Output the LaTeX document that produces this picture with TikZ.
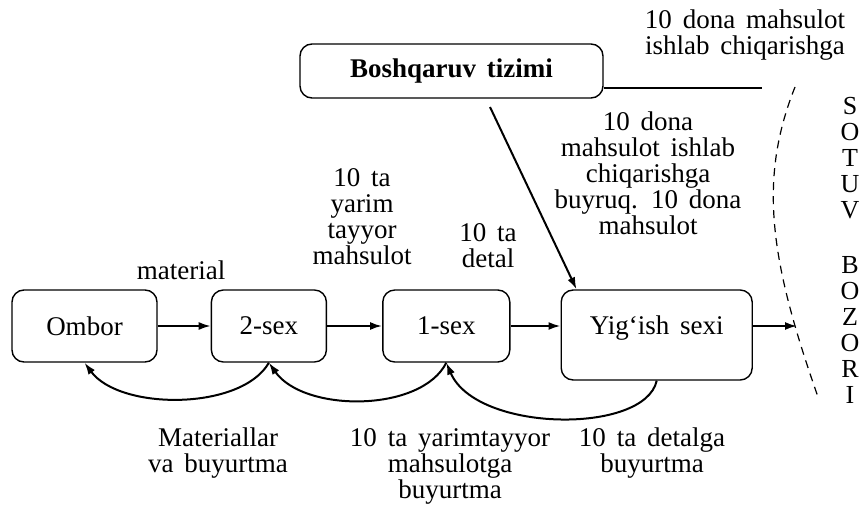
\documentclass[tikz,border=0pt]{standalone}
\usepackage{fontspec}
\setmainfont{Liberation Serif}[WordSpace=1.6]
\usetikzlibrary{positioning}
\usetikzlibrary{arrows.meta}
\usetikzlibrary{calc}
\tikzset{%
	% Specifications for style of nodes:
	base/.style = {rectangle, rounded corners=6pt, draw=black, line width=0.7pt,
		inner sep=0pt, text centered},
	shop/.style = {base, minimum height=36pt},
	control/.style = {base, minimum width=151.5pt, minimum height=27pt,
		font=\bfseries},
	note/.style = {align=center, inner sep=0pt},
	letters/.style = {note, font=\fontsize{13}{13}\selectfont},
	flow/.style = {->, line width=1pt},
}

\begin{document}
\fontsize{13.5}{13}\selectfont
\begin{tikzpicture}[x=0.5pt, y=-0.5pt, node distance=26.5pt,
	>={Latex[length=6pt,width=4pt]}]
	\useasboundingbox (0,0) rectangle (861,513);
	
	\node (ombor) [shop, minimum width=72.5pt] at (84.5,326) {Ombor};
	\node (sex2) [shop, minimum width=57.5pt, right=of ombor] {2-sex};
	\node (sex1) [shop, minimum width=63.5pt, right=27.5pt of sex2] {1-sex};
	\node (yigish) [base, minimum width=95.5pt, text height=22pt, text depth=23pt,
		right=25pt of sex1.north east, anchor=north west] {Yig‘ish sexi};
	\node (tizim) [control] at (451.5,71) {Boshqaruv tizimi};
	
	\node (material) [note] at (181,270) {material};
	\node (yarim) [note] at (362,217) {10 ta\\yarim\\tayyor\\mahsulot};
	\node (detal) [note] at (488,246) {10 ta\\detal};
	\node (buyruq) [note] at (648,173) {10 dona\\mahsulot ishlab\\chiqarishga\\buyruq. 10 dona\\mahsulot};
	\node (reja) [note] at (745,35) {10 dona mahsulot\\ishlab chiqarishga};
	\node (sotuv) [letters] at (850,158) {S\\O\\T\\U\\V};
	\node (bozori) [letters] at (850,330) {B\\O\\Z\\O\\R\\I};
	
	\node (matbuy) [note] at (218,453) {Materiallar\\va buyurtma};
	\node (yarimbuy) [note] at (450,466) {10 ta yarimtayyor\\mahsulotga\\buyurtma};
	\node (detalbuy) [note] at (652,453) {10 ta detalga\\buyurtma};
	
	% flow of material
	\draw[flow] (ombor) -- (sex2);
	\draw[flow] (sex2) -- (sex1);
	\draw[flow] (sex1.east) -- (sex1.east -| yigish.west);
	\coordinate (bozor) at (797,326);
	\draw[flow] (yigish.east |- sex1.east) -- (bozor);
	
	% orders
	\coordinate (buyruqtop) at (490,107);
	\draw[flow] (buyruqtop) -- ([xshift=8pt]yigish.north west);
	\coordinate (rejaend) at (762,88);
	\draw[line width=0.8pt] (tizim.east |- rejaend) -- (rejaend);
	\draw[flow] (sex2.south) .. controls +(-27.5,48) and +(35.5,48) .. (ombor.south);
	\draw[flow] (sex1.south) .. controls +(-25,50) and +(35,50) .. (sex2.south);
	\draw[flow] (yigish.south) .. controls +(-12,54) and +(30,70) .. (sex1.south);
	
	% border of the market
	\coordinate (bozortop) at (795,87);
	\coordinate (bozorbottom) at (818,397);
	\draw[dashed, line width=0.6pt, dash pattern=on 4pt off 3pt]
		(bozortop) .. controls (758,180) and (770,260) .. (bozorbottom);
\end{tikzpicture}
\end{document}
